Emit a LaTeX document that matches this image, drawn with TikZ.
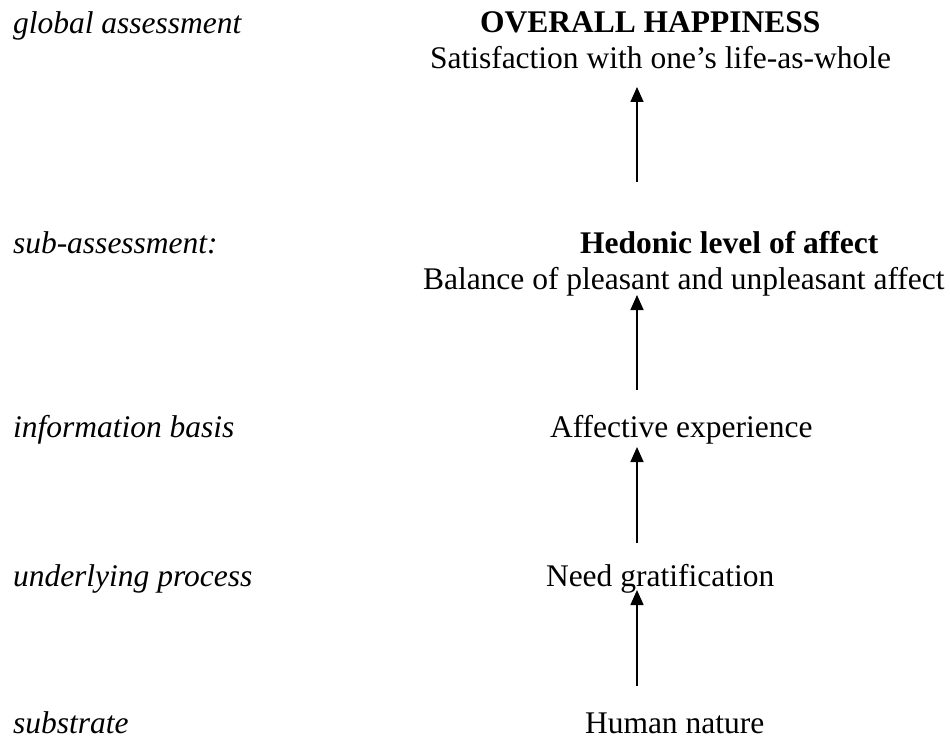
\documentclass[tikz,border=0pt]{standalone}
\usepackage{fontspec}
\setmainfont{Liberation Serif}
\usetikzlibrary{arrows.meta}
\begin{document}
\begin{tikzpicture}[x=1pt,y=-1pt,
  txt/.style={inner sep=0pt,outer sep=0pt,anchor=base west,font=\fontsize{31.5}{36}\selectfont},
  lbl/.style={txt,font=\fontsize{31.5}{36}\selectfont\itshape},
  bld/.style={txt,font=\fontsize{31.5}{36}\selectfont\bfseries},
  uparrow/.style={line width=1.6pt,-{Triangle[length=15pt,width=13pt]}}]
\useasboundingbox (0,0) rectangle (950,738);
% left labels
\node[lbl] (l1) at (13,34) {global assessment};
\node[lbl] (l2) at (13,253) {sub-assessment:};
\node[lbl] (l3) at (13,437) {information basis};
\node[lbl] (l4) at (13,586) {underlying process};
\node[lbl] (l5) at (13,733) {substrate};
% right texts
\node[bld] (oh) at (480,33) {OVERALL HAPPINESS};
\node[txt] (sat) at (430,69) {Satisfaction with one’s life-as-whole};
\node[bld] (hed) at (580,253) {Hedonic level of affect};
\node[txt] (bal) at (423,289) {Balance of pleasant and unpleasant affect};
\node[txt] (aff) at (550,437) {Affective experience};
\node[txt] (need) at (546,586) {Need gratification};
\node[txt] (hum) at (585,733) {Human nature};
% arrows
\coordinate (a1s) at (637,182); \coordinate (a1e) at (637,87);
\coordinate (a2s) at (637,390); \coordinate (a2e) at (637,295);
\coordinate (a3s) at (637,543); \coordinate (a3e) at (637,447);
\coordinate (a4s) at (637,686); \coordinate (a4e) at (637,590);
\draw[uparrow] (a1s) -- (a1e);
\draw[uparrow] (a2s) -- (a2e);
\draw[uparrow] (a3s) -- (a3e);
\draw[uparrow] (a4s) -- (a4e);
\end{tikzpicture}
\end{document}
